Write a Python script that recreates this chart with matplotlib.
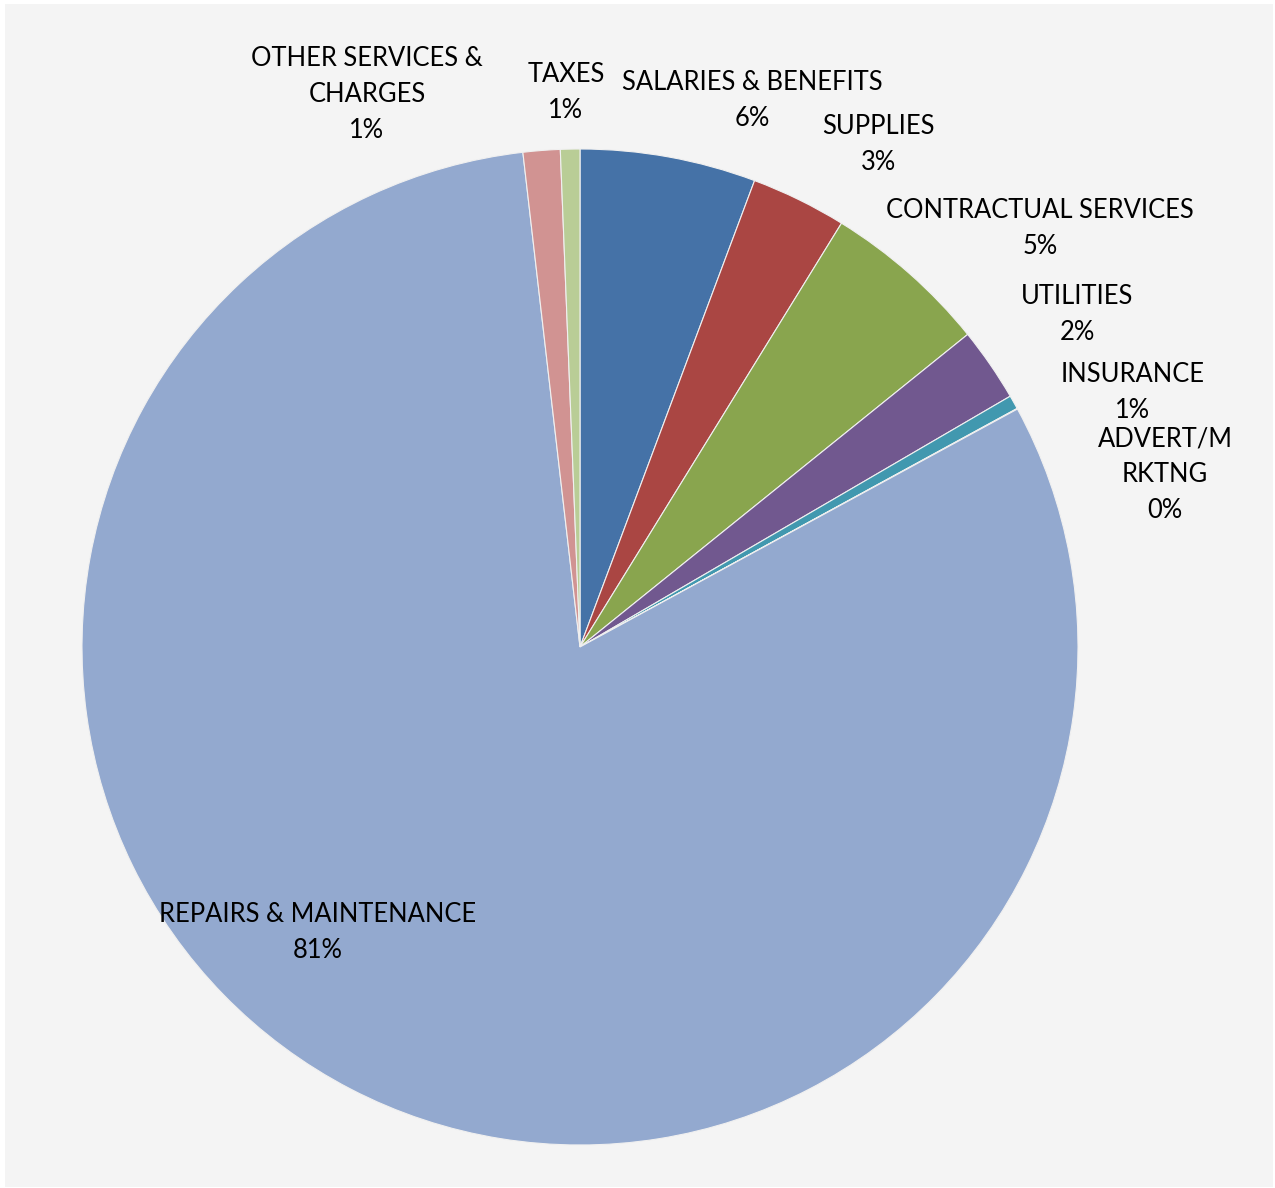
import matplotlib
matplotlib.use("Agg")
import matplotlib.pyplot as plt
from matplotlib.patches import Rectangle
import numpy as np

categories = ["SALARIES & BENEFITS", "SUPPLIES", "CONTRACTUAL SERVICES", "UTILITIES",
              "INSURANCE", "ADVERT/MRKTNG", "REPAIRS & MAINTENANCE",
              "OTHER SERVICES & CHARGES", "TAXES"]
values = [5.7, 3.1, 5.4, 2.4, 0.45, 0.02, 81.1, 1.2, 0.63]
pct_labels = ["6%", "3%", "5%", "2%", "1%", "0%", "81%", "1%", "1%"]
label_text = ["SALARIES & BENEFITS", "SUPPLIES", "CONTRACTUAL SERVICES", "UTILITIES",
              "INSURANCE", "ADVERT/M\nRKTNG", "REPAIRS & MAINTENANCE",
              "OTHER SERVICES &\nCHARGES", "TAXES"]
colors = ["#4572a7", "#aa4643", "#89a54e", "#71588f", "#4198af", "#db843d",
          "#93a9cf", "#d19392", "#b9cd96"]

# layout: label block centers in pixels, and line pitch
label_px = [(752, 97), (878, 142), (1040, 225), (1077, 311), (1133, 389),
            (1165, 472), (318, 930), (367, 92), (566, 89)]
line_pitch = 36
text_dy = 3

W, H = 1275, 1188
cx, cy, R = 580, 647, 498

fig = plt.figure(figsize=(W / 100, H / 100), dpi=100)
fig.patch.set_facecolor("white")
bg = Rectangle((5 / W, 1 / H), 1268 / W, 1183 / H, transform=fig.transFigure,
               facecolor="#f4f4f4", edgecolor="none", zorder=-10)
fig.add_artist(bg)
ax = fig.add_axes([0, 0, 1, 1])
ax.set_zorder(1)
ax.set_facecolor("none")
ax.axis("off")

ax.pie(values, colors=colors, startangle=90, counterclock=False, radius=1.0,
       wedgeprops=dict(edgecolor="#f0f0f0", linewidth=0.8))
ax.set_xlim(-cx / R, (W - cx) / R)
ax.set_ylim(-(H - cy) / R, cy / R)
ax.set_aspect("auto")

for txt, pct, (px, py) in zip(label_text, pct_labels, label_px):
    lines = txt.split("\n") + [pct]
    n = len(lines)
    for i, line in enumerate(lines):
        ly = py + text_dy + (i - (n - 1) / 2) * line_pitch
        ax.text((px - cx) / R, (cy - ly) / R, line, ha="center", va="center",
                fontsize=18.4, family="Lato", color="black")

fig.savefig("out.png", dpi=100, facecolor=fig.get_facecolor())
